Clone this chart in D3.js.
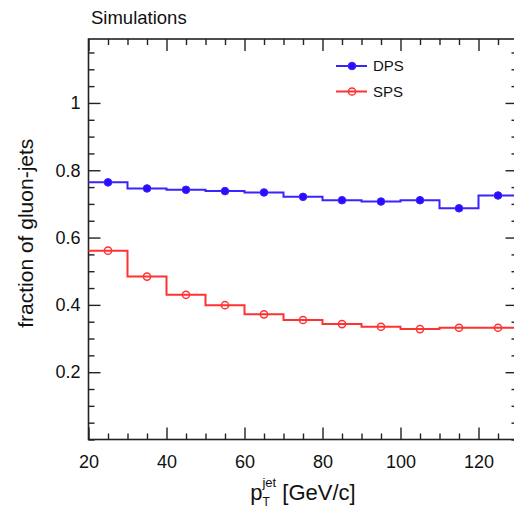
<!DOCTYPE html>
<html>
<head>
<meta charset="utf-8">
<script src="https://cdn.jsdelivr.net/npm/d3@7"></script>
<style>
  body { margin: 0; background: #fff; }
  svg { display: block; font-family: "Liberation Sans", Arial, Helvetica, sans-serif; }
  .axis path.domain { display: none; }
  .axis line { stroke: #222; stroke-width: 1.4; }
  .axis text { fill: #111; font-size: 18px; }
</style>
</head>
<body>
<div id="chart"></div>
<script>
// gluon-jet fraction vs jet pT
const binEdges = [20, 30, 40, 50, 60, 70, 80, 90, 100, 110, 120, 130];
const dpsValues = [0.764, 0.746, 0.742, 0.738, 0.734, 0.721, 0.711, 0.707, 0.711, 0.687, 0.725];
const spsValues = [0.561, 0.484, 0.430, 0.399, 0.372, 0.355, 0.343, 0.335, 0.328, 0.332, 0.332];
const xMajorTicks = [20, 40, 60, 80, 100, 120];
const yMajorTicks = [0.2, 0.4, 0.6, 0.8, 1.0];
const seriesNames = ["DPS", "SPS"];

const width = 514, height = 511;
const margin = { top: 39, right: -3.5, bottom: 71.5, left: 88.5 };

const svg = d3.select("#chart").append("svg")
  .attr("width", width)
  .attr("height", height);

const x = d3.scaleLinear().domain([20, 130]).range([margin.left, width - margin.right]);
const y = d3.scaleLinear().domain([0, 1.19]).range([height - margin.bottom, margin.top]);

const x0 = x.range()[0], x1 = x.range()[1];
const y0 = y.range()[0], y1 = y.range()[1];

const xMinor = d3.range(20, 131, 5).filter(v => !xMajorTicks.includes(v));
const yMinor = d3.range(0, 1.19, 0.05).map(v => +v.toFixed(2)).filter(v => !yMajorTicks.includes(v));

// bottom + top axes
svg.append("g").attr("class", "axis")
  .attr("transform", `translate(0,${y0})`)
  .call(d3.axisBottom(x).tickValues(xMinor).tickSizeInner(-6).tickSizeOuter(0).tickFormat(""));
svg.append("g").attr("class", "axis")
  .attr("transform", `translate(0,${y0})`)
  .call(d3.axisBottom(x).tickValues(xMajorTicks).tickSizeInner(-12).tickSizeOuter(0).tickPadding(10).tickFormat(d3.format("d")))
  .selectAll("text").attr("dy", "1em");
svg.append("g").attr("class", "axis")
  .attr("transform", `translate(0,${y1})`)
  .call(d3.axisTop(x).tickValues(xMinor).tickSizeInner(-6).tickSizeOuter(0).tickFormat(""));
svg.append("g").attr("class", "axis")
  .attr("transform", `translate(0,${y1})`)
  .call(d3.axisTop(x).tickValues(xMajorTicks).tickSizeInner(-12).tickSizeOuter(0).tickFormat(""));

// left + right axes
svg.append("g").attr("class", "axis")
  .attr("transform", `translate(${x0},0)`)
  .call(d3.axisLeft(y).tickValues(yMinor).tickSizeInner(-6).tickSizeOuter(0).tickFormat(""));
svg.append("g").attr("class", "axis")
  .attr("transform", `translate(${x0},0)`)
  .call(d3.axisLeft(y).tickValues(yMajorTicks).tickSizeInner(-12).tickSizeOuter(0).tickPadding(8).tickFormat(d => d === 1 ? "1" : d3.format(".1f")(d)));
svg.append("g").attr("class", "axis")
  .attr("transform", `translate(${x1},0)`)
  .call(d3.axisRight(y).tickValues(yMinor).tickSizeInner(-6).tickSizeOuter(0).tickFormat(""));
svg.append("g").attr("class", "axis")
  .attr("transform", `translate(${x1},0)`)
  .call(d3.axisRight(y).tickValues(yMajorTicks).tickSizeInner(-12).tickSizeOuter(0).tickFormat(""));

// frame
svg.append("rect")
  .attr("x", x0).attr("y", y1)
  .attr("width", x1 - x0).attr("height", y0 - y1)
  .attr("fill", "none").attr("stroke", "#222").attr("stroke-width", 1.6);

const colors = { DPS: "#3b22ff", SPS: "#ff3232" };
const markerFill = { DPS: "#2a0cff", SPS: "none" };

const stepLine = d3.line().x(d => x(d[0])).y(d => y(d[1]));

function drawSeries(name, values) {
  const pts = [];
  values.forEach((v, i) => { pts.push([binEdges[i], v]); pts.push([binEdges[i + 1], v]); });
  svg.append("path")
    .attr("d", stepLine(pts))
    .attr("fill", "none")
    .attr("stroke", colors[name])
    .attr("stroke-width", 2);
  svg.append("g").selectAll("circle")
    .data(values)
    .join("circle")
    .attr("cx", (d, i) => x((binEdges[i] + binEdges[i + 1]) / 2))
    .attr("cy", d => y(d))
    .attr("r", name === "DPS" ? 3.8 : 3.6)
    .attr("fill", markerFill[name])
    .attr("stroke", colors[name])
    .attr("stroke-width", name === "DPS" ? 1 : 1.5);
}

drawSeries("DPS", dpsValues);
drawSeries("SPS", spsValues);

// legend
const legend = svg.append("g").attr("transform", "translate(336,66)");
seriesNames.forEach((name, i) => {
  const row = legend.append("g").attr("transform", `translate(0,${i * 25.5})`);
  row.append("line").attr("x1", 0).attr("x2", 31).attr("y1", 0).attr("y2", 0)
    .attr("stroke", colors[name]).attr("stroke-width", 2);
  row.append("circle").attr("cx", 16).attr("cy", 0)
    .attr("r", name === "DPS" ? 3.8 : 3.6)
    .attr("fill", markerFill[name])
    .attr("stroke", colors[name])
    .attr("stroke-width", name === "DPS" ? 1 : 1.5);
  row.append("text").attr("x", 37).attr("y", 0).attr("dy", "0.36em")
    .attr("font-size", 15).attr("fill", "#111").text(name);
});

// title
svg.append("text")
  .attr("x", 91).attr("y", 24)
  .attr("font-size", 18.5).attr("fill", "#111")
  .text("Simulations");

// y axis title
svg.append("text")
  .attr("transform", `translate(33,${(y0 + y1) / 2 - 6}) rotate(-90)`)
  .attr("text-anchor", "middle")
  .attr("font-size", 21).attr("fill", "#111")
  .text("fraction of gluon-jets");

// x axis title
const xt = svg.append("text")
  .attr("x", (x0 + x1) / 2)
  .attr("y", 500)
  .attr("text-anchor", "middle")
  .attr("font-size", 22).attr("fill", "#111");
xt.append("tspan").text("p");
xt.append("tspan").attr("font-size", 12).attr("dy", 6).text("T");
xt.append("tspan").attr("font-size", 13).attr("dx", -7.5).attr("dy", -19).text("jet");
xt.append("tspan").attr("dy", 13).text(" [GeV/c]");
</script>
</body>
</html>
